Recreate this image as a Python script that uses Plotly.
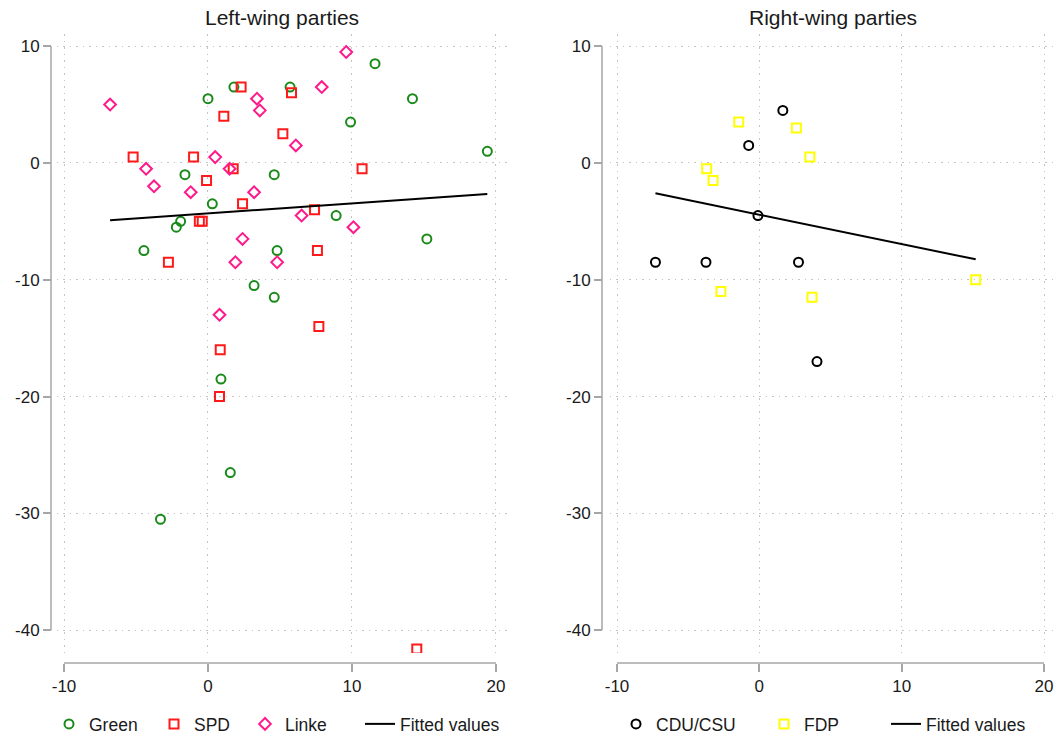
import plotly.graph_objects as go

# ---------------- data ----------------
green_x = [1.8, 5.7, 0.0, -1.6, 4.6, 0.3, -1.9, -2.2, -4.45, 4.8, 11.6, 14.2, 9.9, 19.4, 8.9, 15.2, 3.2, 4.6, 0.9, 1.55, -3.3]
green_y = [6.5, 6.5, 5.5, -1.0, -1.0, -3.5, -5.0, -5.5, -7.5, -7.5, 8.5, 5.5, 3.5, 1.0, -4.5, -6.5, -10.5, -11.5, -18.5, -26.5, -30.5]

spd_x = [2.3, 5.8, 1.1, 5.2, -5.2, -1.0, 1.75, -0.1, 2.4, -0.6, -0.4, 10.7, 7.4, 7.6, -2.75, 7.7, 0.85, 0.8, 14.5]
spd_y = [6.5, 6.0, 4.0, 2.5, 0.5, 0.5, -0.5, -1.5, -3.5, -5.0, -5.0, -0.5, -4.0, -7.5, -8.5, -14.0, -16.0, -20.0, -41.6]

linke_x = [-6.8, 3.4, 3.6, 6.1, 0.5, -4.3, 1.5, -3.75, -1.2, 3.2, 6.5, 2.4, 9.6, 7.9, 10.1, 1.9, 4.8, 0.8]
linke_y = [5.0, 5.5, 4.5, 1.5, 0.5, -0.5, -0.5, -2.0, -2.5, -2.5, -4.5, -6.5, 9.5, 6.5, -5.5, -8.5, -8.5, -13.0]

left_fit_x = [-6.8, 19.4]
left_fit_y = [-4.9, -2.65]

cdu_x = [1.65, -0.75, -0.1, -7.3, -3.75, 2.75, 4.05]
cdu_y = [4.5, 1.5, -4.5, -8.5, -8.5, -8.5, -17.0]

fdp_x = [-1.45, 2.6, 3.55, -3.7, -3.25, -2.7, 3.7, 15.2]
fdp_y = [3.5, 3.0, 0.5, -0.5, -1.5, -11.0, -11.5, -10.0]

right_fit_x = [-7.3, 15.2]
right_fit_y = [-2.6, -8.25]

x_ticks = [-10, 0, 10, 20]
x_tick_labels = ["-10", "0", "10", "20"]
y_ticks = [-40, -30, -20, -10, 0, 10]
y_tick_labels = ["-40", "-30", "-20", "-10", "0", "10"]
titles = ["Left-wing parties", "Right-wing parties"]

# ---------------- styling ----------------
W, H = 1059, 742
FONT = "Liberation Sans, Arial, sans-serif"
TXT = "#1a1a1a"
AXC = "#a6a6a6"
GRIDC = "#c4c4c4"
GREEN = "#1a8a1a"
RED = "#ff1a1a"
PINK = "#ff1a8c"
BLACK = "#000000"
YELLOW = "#ffff00"

def px_x(p):
    return p / W

def px_y(p):
    return 1 - p / H

fig = go.Figure()

def scatter(x, y, name, symbol, color, size, xa, ya, legend):
    fig.add_trace(go.Scatter(
        x=x, y=y, mode="markers", name=name,
        marker=dict(symbol=symbol, size=size, color=color,
                    line=dict(color=color, width=2)),
        xaxis=xa, yaxis=ya, legend=legend, showlegend=True))

def fitline(x, y, xa, ya, legend):
    fig.add_trace(go.Scatter(
        x=x, y=y, mode="lines", name="Fitted values",
        line=dict(color=BLACK, width=2),
        xaxis=xa, yaxis=ya, legend=legend, showlegend=True))

scatter(green_x, green_y, "Green", "circle-open", GREEN, 9, "x", "y", "legend")
scatter(spd_x, spd_y, "SPD", "square-open", RED, 9, "x", "y", "legend2")
scatter(linke_x, linke_y, "Linke", "diamond-open", PINK, 9, "x", "y", "legend3")
fitline(left_fit_x, left_fit_y, "x", "y", "legend4")

scatter(cdu_x, cdu_y, "CDU/CSU", "circle-open", BLACK, 9, "x2", "y2", "legend5")
scatter(fdp_x, fdp_y, "FDP", "square-open", YELLOW, 9, "x2", "y2", "legend6")
fitline(right_fit_x, right_fit_y, "x2", "y2", "legend7")

xrange = [-10.5, 20.8]
yrange = [-41.95, 11.04]

left_dom = [px_x(56.8), px_x(507.5)]
right_dom = [px_x(609.9), px_x(1055.4)]
ydom = [px_y(653), px_y(34)]

xaxis_pos = px_y(663)
left_yaxis_pos = px_x(51)
right_yaxis_pos = px_x(602)

tickfont = dict(family=FONT, size=17, color=TXT)
GRID_DASH = "1.5px,5px"

def xax(dom):
    return dict(domain=dom, range=xrange, anchor="free", position=xaxis_pos,
                showline=False, zeroline=False, showgrid=True, gridcolor=GRIDC,
                griddash=GRID_DASH, gridwidth=1.2, ticks="outside", ticklen=8,
                tickwidth=1.5, tickcolor=AXC, tickvals=x_ticks, ticktext=x_tick_labels,
                tickfont=tickfont, automargin=False, fixedrange=True)

def yax(pos):
    return dict(domain=ydom, range=yrange, anchor="free", position=pos,
                showline=False, zeroline=False, showgrid=True, gridcolor=GRIDC,
                griddash=GRID_DASH, gridwidth=1.2, ticks="outside", ticklen=8,
                tickwidth=1.5, tickcolor=AXC, tickvals=y_ticks, ticktext=y_tick_labels,
                tickfont=tickfont, automargin=False, fixedrange=True)

shapes = []
for xa, ya, ypos in [("x", "y", left_yaxis_pos), ("x2", "y2", right_yaxis_pos)]:
    shapes.append(dict(type="line", xref="paper", yref=ya, x0=ypos, x1=ypos,
                       y0=min(y_ticks), y1=max(y_ticks),
                       line=dict(color=AXC, width=1.5)))
    shapes.append(dict(type="line", xref=xa, yref="paper", x0=min(x_ticks), x1=max(x_ticks),
                       y0=xaxis_pos, y1=xaxis_pos, line=dict(color=AXC, width=1.5)))

annotations = []
for t, dom in zip(titles, [left_dom, right_dom]):
    annotations.append(dict(text=t, x=(dom[0] + dom[1]) / 2, y=px_y(18), xref="paper",
                            yref="paper", showarrow=False, xanchor="center",
                            yanchor="middle", font=dict(family=FONT, size=21, color=TXT)))

# legend item left edges (px); symbol sits 20px right, text 40px right
leg_lefts = [49, 154, 245, 360, 616, 764, 886]
legends = {}
names = ["legend", "legend2", "legend3", "legend4", "legend5", "legend6", "legend7"]
for nm, c in zip(names, leg_lefts):
    legends[nm] = dict(x=px_x(c), y=px_y(724), xanchor="left", yanchor="middle",
                       orientation="h", bgcolor="rgba(0,0,0,0)", borderwidth=0,
                       font=dict(family=FONT, size=17.5, color=TXT), itemclick=False)

fig.update_layout(
    width=W, height=H, margin=dict(l=0, r=0, t=0, b=0, autoexpand=False),
    paper_bgcolor="white", plot_bgcolor="white",
    xaxis=xax(left_dom), yaxis=yax(left_yaxis_pos),
    xaxis2=xax(right_dom), yaxis2=yax(right_yaxis_pos),
    shapes=shapes, annotations=annotations,
    **legends,
)

fig.write_html(
    "out.html",
    config={"displayModeBar": False},
    post_script="document.body.style.margin='0px';document.body.style.overflow='hidden';",
)
